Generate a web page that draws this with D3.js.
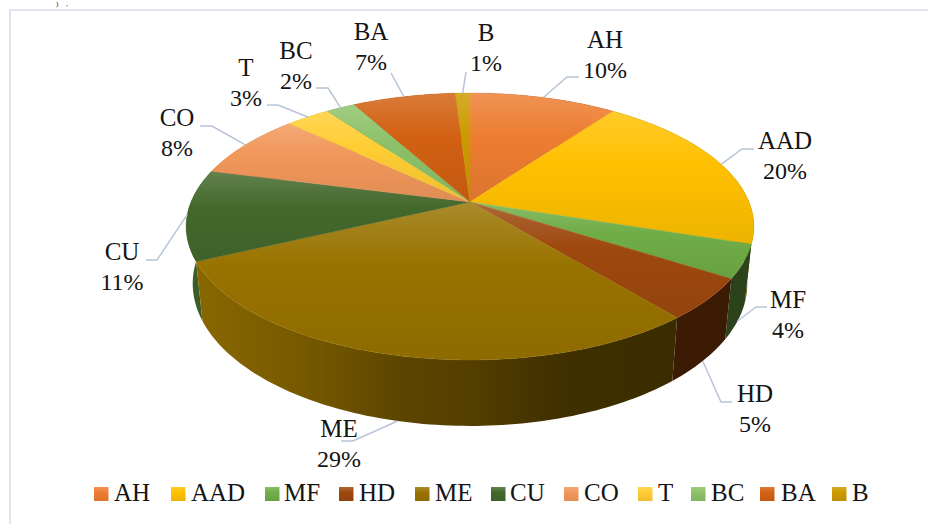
<!DOCTYPE html>
<html>
<head>
<meta charset="utf-8">
<style>
  html, body { margin: 0; padding: 0; background: #fff; }
  svg { display: block; }
  text { font-family: "Liberation Serif", serif; font-size: 25px; fill: #141414; }
  tspan.pct { font-size: 24px; }
</style>
<script src="https://cdn.jsdelivr.net/npm/d3@7"></script>
</head>
<body>
<svg id="chart" width="928" height="524"></svg>
<script>
// Share of each category, in percent, clockwise from twelve o'clock.
const categories = ["AH", "AAD", "MF", "HD", "ME", "CU", "CO", "T", "BC", "BA", "B"];
const shares = [10, 20, 4, 5, 29, 11, 8, 3, 2, 7, 1];
const colors = ["#ED7D31", "#FFC000", "#70AD47", "#9E480E", "#997300", "#43682B",
                "#F1975A", "#FFCD33", "#8CC168", "#D26012", "#CC9A00"];

// Data label layout: centre of the text block, baseline of the first line,
// and the elbow of the leader line (null when the leader runs straight).
const labelX = [605, 785, 788, 755, 339, 122, 177, 246, 296, 371, 486];
const labelY = [48, 149, 308, 402, 437, 260, 126, 76, 59, 40, 41];
const leaderEnd = [[579, 77], [754, 149], [767, 307], [732, 402], [341, 441], [146, 260],
                   [200, 126], [267, 105], [316, 88], [391, 73], [466, 72]];
const leaderElbow = [[567, 77], [742, 149], [756, 307], [721, 402], [353, 441], [157, 260],
                     [212, 126], [278, 105], [328, 88], null, null];

// Legend key left edges and label left edges along the bottom row.
const legendKeyX = [94, 171, 265, 339, 415, 491, 564, 638, 691, 760, 832];
const legendTextX = [114, 191, 284, 359, 435, 510, 584, 658, 711, 781, 852];

const svg = d3.select("#chart");
const defs = svg.append("defs");

// Perspective pie: a circle seen from above, with the apex above the ellipse centre.
const apex = { x: 470, y: 202 };
const view = { a: 279, b: 129, k: 0.1835 };
const wall = { shrink: 0.977, drop: 55.5, stretch: 1.066 };

function topRim(theta) {
  const u = Math.sin(theta), v = -Math.cos(theta), w = 1 - view.k * v;
  return [apex.x + view.a * u / w, apex.y + view.b * v / w];
}
function bottomRim(theta) {
  const [x, y] = topRim(theta);
  return [apex.x + (x - apex.x) * wall.shrink,
          apex.y + wall.drop + (y - apex.y) * wall.stretch];
}
function sweep(a0, a1, fn) {
  const n = Math.max(2, Math.ceil((a1 - a0) / 0.02));
  return d3.range(n + 1).map(i => fn(a0 + (a1 - a0) * i / n));
}

const arcs = d3.pie().sort(null).value(d => d)(shares);
const line = d3.line();
const mixWhite = (c, t) => d3.interpolateRgb(c, "#fff")(t);
const shade = (c, f) => {
  const r = d3.rgb(c);
  return d3.rgb(r.r * f, r.g * f, r.b * f).formatRgb();
};

// Wall lighting falls off from left to right.
const wallLight = d3.scaleLinear()
  .domain([190, 300, 400, 470, 560, 680, 760])
  .range([0.9, 0.78, 0.6, 0.55, 0.42, 0.38, 0.38]);

arcs.forEach((d, i) => {
  const top = defs.append("linearGradient")
    .attr("id", "top" + i).attr("x1", 0).attr("y1", 0).attr("x2", 0).attr("y2", 1);
  top.append("stop").attr("offset", 0).attr("stop-color", mixWhite(colors[i], 0.17));
  top.append("stop").attr("offset", 0.4).attr("stop-color", colors[i]);
  top.append("stop").attr("offset", 1).attr("stop-color", shade(colors[i], 0.93));

  const side = defs.append("linearGradient")
    .attr("id", "side" + i).attr("gradientUnits", "userSpaceOnUse")
    .attr("x1", 190).attr("y1", 0).attr("x2", 760).attr("y2", 0);
  wallLight.domain().forEach(x => {
    side.append("stop").attr("offset", (x - 190) / 570)
      .attr("stop-color", shade(colors[i], wallLight(x)));
  });
});

// Walls first, from the back of the pie to the front, then the top faces.
const byDepth = arcs.map((d, i) => ({ d, i }))
  .sort((p, q) => d3.descending(Math.cos((p.d.startAngle + p.d.endAngle) / 2),
                               Math.cos((q.d.startAngle + q.d.endAngle) / 2)));

svg.append("g").selectAll("path").data(byDepth).join("path")
  .attr("fill", p => `url(#side${p.i})`)
  .attr("d", p => line([
    ...sweep(p.d.startAngle, p.d.endAngle, topRim),
    ...sweep(p.d.startAngle, p.d.endAngle, bottomRim).reverse()
  ]) + "Z");

svg.append("g").selectAll("path").data(arcs).join("path")
  .attr("fill", (d, i) => `url(#top${i})`)
  .attr("stroke", (d, i) => `url(#top${i})`)
  .attr("stroke-width", 0.4)
  .attr("d", d => line([[apex.x, apex.y], ...sweep(d.startAngle, d.endAngle, topRim)]) + "Z");

// Leaders meet the wall on the near side of the pie and the top rim elsewhere.
const leaderAnchor = d => {
  const mid = (d.startAngle + d.endAngle) / 2;
  return Math.abs(mid - Math.PI) < Math.PI * 0.38 ? bottomRim(mid) : topRim(mid);
};

svg.append("g").selectAll("path").data(arcs).join("path")
  .attr("fill", "none")
  .attr("stroke", "#b7c4d7")
  .attr("stroke-width", 1.5)
  .attr("d", (d, i) => line([
    leaderAnchor(d),
    ...(leaderElbow[i] ? [leaderElbow[i]] : []),
    leaderEnd[i]
  ]));

const labels = svg.append("g").selectAll("text").data(categories).join("text")
  .attr("text-anchor", "middle");
labels.append("tspan")
  .attr("x", (d, i) => labelX[i]).attr("y", (d, i) => labelY[i])
  .text(d => d);
labels.append("tspan")
  .attr("class", "pct")
  .attr("x", (d, i) => labelX[i]).attr("y", (d, i) => labelY[i] + 30)
  .text((d, i) => shares[i] + "%");

// Legend row.
const legend = svg.append("g");
legend.selectAll("rect").data(categories).join("rect")
  .attr("x", (d, i) => legendKeyX[i]).attr("y", 487)
  .attr("width", 14.5).attr("height", 14)
  .attr("fill", (d, i) => `url(#top${i})`);
legend.selectAll("text").data(categories).join("text")
  .attr("x", (d, i) => legendTextX[i]).attr("y", 501)
  .text(d => d);

// Chart frame, open to the right and bottom of the page.
svg.append("path")
  .attr("fill", "none").attr("stroke", "#dfe4ee").attr("stroke-width", 2)
  .attr("d", "M928,10H10V524");

// Tail of the line of running text above the frame.
svg.append("text")
  .attr("x", 56).attr("y", 5.5)
  .attr("letter-spacing", 8)
  .style("font-size", "7px")
  .text("),");
</script>
</body>
</html>
